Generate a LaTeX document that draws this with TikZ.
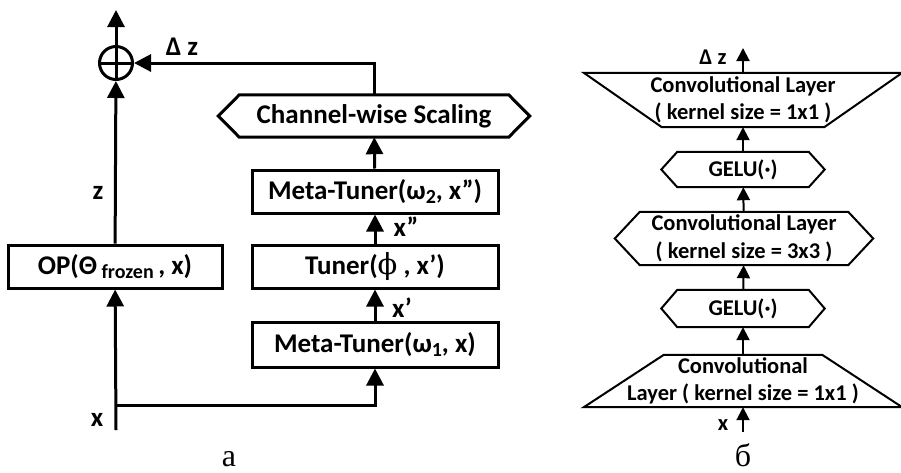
\documentclass[tikz,border=0pt]{standalone}
\usepackage{fontspec}
\setmainfont{Carlito}
\newfontfamily\capfont{Liberation Serif}
\newfontfamily\phifont{DejaVu Serif}
\usetikzlibrary{arrows.meta,calc}

% lowered subscript as in the picture
\newcommand\lowr[1]{\raisebox{-0.3ex}{\fontsize{20}{20}\selectfont #1}}
% outlines drawn round a named node
\newcommand\hexout[3]{%
  \draw[line width=#3] (#1.west) -- ($(#1.north west)+(#2,0)$) -- ($(#1.north east)-(#2,0)$)
    -- (#1.east) -- ($(#1.south east)-(#2,0)$) -- ($(#1.south west)+(#2,0)$) -- cycle;}
\newcommand\trapdown[3]{%
  \draw[line width=#3] (#1.north west) -- (#1.north east) -- ($(#1.south east)-(#2,0)$)
    -- ($(#1.south west)+(#2,0)$) -- cycle;}
\newcommand\trapup[3]{%
  \draw[line width=#3] (#1.south west) -- (#1.south east) -- ($(#1.north east)-(#2,0)$)
    -- ($(#1.north west)+(#2,0)$) -- cycle;}

\tikzset{
  lfont/.style={font=\bfseries\fontsize{27}{30}\selectfont},
  rfont/.style={font=\bfseries\fontsize{22.5}{27.5}\selectfont},
  tbox/.style={draw, line width=3pt, lfont, inner sep=0pt, minimum width=246pt, minimum height=43pt},
  shell/.style={inner sep=0pt, align=center},
  sumnode/.style={draw, circle, line width=3pt, minimum size=33pt, inner sep=0pt},
  lbl/.style={inner sep=0pt},
  arrl/.style={line width=3pt, -{Triangle[length=17pt,width=17pt]}},
  arrr/.style={line width=2pt, -{Triangle[length=13pt,width=13pt]}},
}

\begin{document}
\begin{tikzpicture}[x=1pt,y=-1pt]
    \useasboundingbox (0,0) rectangle (901,472);
    % left: frozen path and tuner branch
    \node[tbox, minimum width=214pt] (op) at (115,266.5) {OP(Θ\,\lowr{frozen}\,, x)};
    \node[tbox, minimum height=45pt] (mt1) at (375,344.5) {Meta-Tuner(ω\lowr{1}, x)};
    \node[tbox] (tun) at (375,266.5) {Tuner({\phifont\mdseries\fontsize{29}{29}\selectfont ϕ} , x’)};
    \node[tbox] (mt2) at (375,191.5) {Meta-Tuner(ω\lowr{2}, x”)};
    \node[shell, lfont, minimum width=311pt, minimum height=42pt] (cws) at (374,116) {Channel-wise Scaling};
    \hexout{cws}{21}{3pt}
    \node[sumnode] (sum) at (116,63) {};
    \draw[line width=3pt] (sum.north) -- (sum.south) (sum.west) -- (sum.east);
    \coordinate (xin) at (116,430);
    \coordinate (split) at (116,405);
    \coordinate (zout) at (116,10);
    \draw[arrl] (xin) -- (op);
    \draw[arrl] (op) -- (sum);
    \draw[arrl] (sum) -- (zout);
    \draw[arrl] (split) -| (mt1);
    \draw[arrl] (mt1) -- (tun);
    \draw[arrl] (tun) -- (mt2);
    \draw[arrl] (mt2) -- (cws);
    \draw[arrl] (cws.north) |- (sum);
    \node[lbl, lfont] (zlbl) at (98,193) {z};
    \node[lbl, lfont] (dzl) at (182,47) {Δ z};
    \node[lbl, lfont] (x2l) at (406,227) {x”};
    \node[lbl, lfont] (x1l) at (402,308) {x’};
    \node[lbl, lfont] (xl) at (97,420) {x};
    % right: tuner layers
    \node[shell, rfont, minimum width=318pt, minimum height=54pt] (ct) at (743,100) {Convolutional Layer\\( kernel size = 1x1 )};
    \trapdown{ct}{78}{2pt}
    \node[shell, rfont, minimum width=163pt, minimum height=35pt] (g1) at (743,169.5) {GELU(·)};
    \hexout{g1}{16}{2pt}
    \node[shell, rfont, minimum width=258pt, minimum height=53pt] (c3) at (744,238.5) {Convolutional Layer\\( kernel size = 3x3 )};
    \hexout{c3}{25}{2pt}
    \node[shell, rfont, minimum width=163pt, minimum height=37pt] (g2) at (743,308.5) {GELU(·)};
    \hexout{g2}{16}{2pt}
    \node[shell, rfont, minimum width=318pt, minimum height=52pt] (cb) at (743,381) {Convolutional\\Layer ( kernel size = 1x1 )};
    \trapup{cb}{80}{2pt}
    \coordinate (xr) at (743,432);
    \coordinate (dzr) at (743,48);
    \draw[arrr] (xr) -- (cb);
    \draw[arrr] (cb) -- (g2);
    \draw[arrr] (g2) -- (c3);
    \draw[arrr] (c3) -- (g1);
    \draw[arrr] (g1) -- (ct);
    \draw[arrr] (ct) -- (dzr);
    \node[lbl, rfont] (dzrl) at (713,57) {Δ z};
    \node[lbl, rfont] (xrl) at (723,425) {x};
    % captions
    \node[lbl, anchor=base, text depth=0pt, font=\capfont\fontsize{32}{32}\selectfont] (capa) at (229,466) {а};
    \node[lbl, anchor=base, text depth=0pt, font=\capfont\fontsize{32}{32}\selectfont] (capb) at (743,466) {б};
\end{tikzpicture}
\end{document}
